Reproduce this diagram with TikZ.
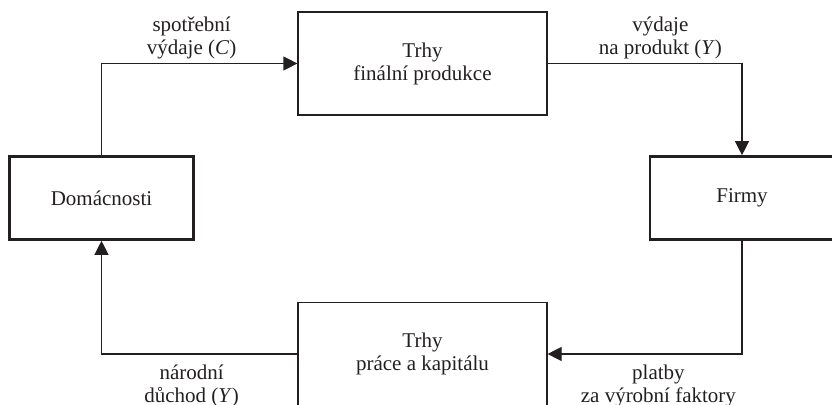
\documentclass[tikz,border=0pt]{standalone}
\usepackage{fontspec}
\setmainfont{Liberation Serif}
\usetikzlibrary{arrows.meta}
\definecolor{ink}{HTML}{231F20}

\begin{document}
\begin{tikzpicture}[x=0.5pt,y=-0.5pt,
		market/.style={draw=ink,line width=0.6pt,align=center,inner sep=0pt,minimum width=124.5pt,minimum height=51.5pt},
		sector/.style={draw=ink,line width=1.3pt,inner sep=0pt,minimum width=92pt,minimum height=41.5pt},
		flow/.style={draw=ink,line width=0.6pt,-{Triangle[length=7pt,width=7pt]}},
		lbl/.style={align=center,inner sep=2pt}]
		\tikzstyle{every node}+=[text=ink,font=\fontsize{10.5}{11.5}\selectfont]
		\useasboundingbox (0,0) rectangle (832,405);
		\node [sector] (dom) at (101.5,198) {Domácnosti};
		\node [sector] (firmy) at (742,198) {Firmy};
		\node [market] (trhyF) at (422.5,63.5) {Trhy\\finální produkce};
		\node [market] (trhyP) at (422.5,354) {Trhy\\práce a kapitálu};
		\draw [flow] (dom.north) |- (trhyF.west) node [lbl,above,pos=0.73] {spotřební\\výdaje (\textit{C})};
		\draw [flow] (trhyF.east) -| (firmy.north) node [lbl,above,pos=0.29] {výdaje\\na produkt (\textit{Y})};
		\draw [flow] (firmy.south) |- (trhyP.east) node [lbl,below,pos=0.715,inner sep=5pt] {platby\\za výrobní faktory};
		\draw [flow] (trhyP.west) -| (dom.south) node [lbl,below,pos=0.27,inner sep=5pt] {národní\\důchod (\textit{Y})};
	\end{tikzpicture}
\end{document}
